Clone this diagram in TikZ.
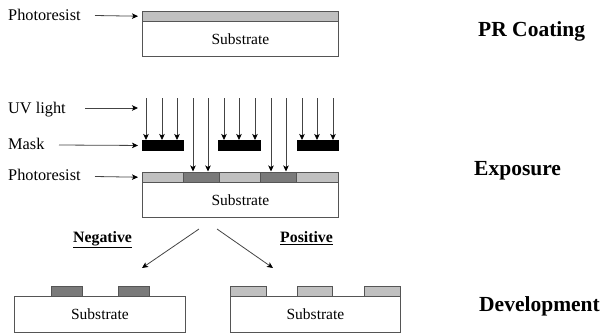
\documentclass[tikz,border=0pt]{standalone}
\usepackage{fontspec}
\setmainfont{Liberation Serif}
\usetikzlibrary{arrows.meta}
\definecolor{edge}{HTML}{555555}
\definecolor{lightpr}{HTML}{C0C0C0}
\definecolor{darkpr}{HTML}{7A7A7A}
\definecolor{arrowc}{HTML}{444444}
\tikzset{
  box/.style={draw=edge, line width=0.9pt, inner sep=0pt, anchor=north west, minimum width=#1},
  sub/.style={box=#1, fill=white, minimum height=35pt, font=\fontsize{15.5}{18}\selectfont},
  lpr/.style={box=#1, fill=lightpr, minimum height=10.5pt},
  dpr/.style={box=#1, fill=darkpr, minimum height=10.5pt},
  mask/.style={box=#1, draw=black, fill=black, minimum height=10pt},
  lbl/.style={anchor=base west, inner sep=0pt, font=\fontsize{16.3}{18}\selectfont},
  stage/.style={anchor=base west, inner sep=0pt, font=\bfseries\fontsize{21.5}{24}\selectfont},
  kind/.style={anchor=base west, inner sep=0pt, font=\bfseries\fontsize{15.8}{18}\selectfont},
  arr/.style={draw=arrowc, line width=0.8pt, -{Stealth[length=6pt,width=5.5pt,inset=1.5pt,color=black]}},
}
\begin{document}
\begin{tikzpicture}[x=1pt,y=-1pt]
\useasboundingbox (0,0) rectangle (604,333);
% ---- PR coating
\node[lpr=196pt] (pr1) at (142,10.5) {};
\node[sub=196pt] (s1) at (142,21) {Substrate};
\node[lbl] (lp1) at (8,20.5) {Photoresist};
\node[stage] (st1) at (478,36.5) {PR Coating};
\coordinate (a1) at (95,15.5);
\draw[arr] (a1) -- ([xshift=-4pt]pr1.west);
% ---- Exposure
\node[sub=196pt] (s2) at (142,182) {Substrate};
\node[lpr=41pt] (e1) at (142,171.5) {};
\node[dpr=36pt] (e2) at (183,171.5) {};
\node[lpr=41pt] (e3) at (219,171.5) {};
\node[dpr=36pt] (e4) at (260,171.5) {};
\node[lpr=42pt] (e5) at (296,171.5) {};
\node[mask=41pt] (m1) at (142,140) {};
\node[mask=42pt] (m2) at (218,140) {};
\node[mask=41pt] (m3) at (297,140) {};
\node[lbl] (luv) at (8,113) {UV light};
\node[lbl] (lmask) at (8,149) {Mask};
\node[lbl] (lp2) at (8,180) {Photoresist};
\node[stage] (st2) at (474,175.5) {Exposure};
\coordinate (a2) at (85,108);
\coordinate (a3) at (59,145);
\coordinate (a4) at (95,176.5);
\coordinate (t2) at (138,108);
\draw[arr] (a2) -- (t2);
\draw[arr] (a3) -- ([xshift=-4pt]m1.west);
\draw[arr] (a4) -- ([xshift=-4pt]e1.west);
\foreach \x in {146,162,177,224,239,255,302,317,333}{
  \coordinate (u\x) at (\x,98);
  \draw[arr] (u\x) -- (u\x |- m1.north);
}
\foreach \x in {193,208,271,286}{
  \coordinate (v\x) at (\x,98);
  \draw[arr] (v\x) -- (v\x |- e1.north);
}
% ---- Development
\coordinate (sp1) at (199,229);
\coordinate (sp2) at (217,229);
\coordinate (ep1) at (142,268);
\coordinate (ep2) at (273,268);
\draw[arr] (sp1) -- (ep1);
\draw[arr] (sp2) -- (ep2);
\node[kind] (neg) at (73,242.5) {\underline{Negative}};
\node[kind] (pos) at (280,242.5) {\underline{Positive}};
\node[sub=171pt, minimum height=36pt] (s3) at (14,296) {Substrate};
\node[sub=170pt, minimum height=36pt] (s4) at (230,296) {Substrate};
\node[dpr=31pt, minimum height=10pt] (n1) at (51,286) {};
\node[dpr=31pt, minimum height=10pt] (n2) at (118,286) {};
\node[lpr=36pt, minimum height=10pt] (p1) at (230,286) {};
\node[lpr=35pt, minimum height=10pt] (p2) at (297,286) {};
\node[lpr=36pt, minimum height=10pt] (p3) at (364,286) {};
\node[stage] (st3) at (479,311) {Development};
\end{tikzpicture}
\end{document}
